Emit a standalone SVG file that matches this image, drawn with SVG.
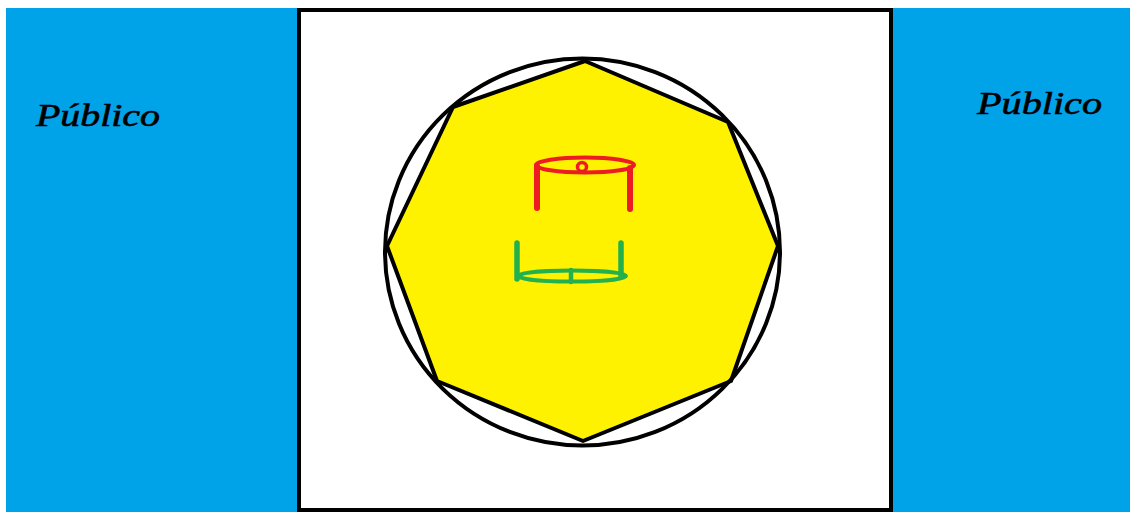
<svg xmlns="http://www.w3.org/2000/svg" width="1132" height="512" viewBox="0 0 1132 512">
<style>
.pub{fill:#00A2E8}
.lbl{font-family:"Liberation Serif",serif;font-style:italic;font-size:31px;fill:#000;stroke:#000;stroke-width:0.6}
.blk{fill:none;stroke:#000;stroke-width:4}
.red{fill:none;stroke:#ED1C24;stroke-linecap:round}
.grn{fill:none;stroke:#22B14C;stroke-linecap:round}
</style>
<rect width="1132" height="512" fill="#fff"/>
<g id="publico-left">
<rect class="pub" x="6" y="8" width="292" height="504"/>
<text class="lbl" x="36" y="126" textLength="124" lengthAdjust="spacingAndGlyphs">Público</text>
</g>
<g id="publico-right">
<rect class="pub" x="892" y="8" width="238" height="504"/>
<text class="lbl" x="977" y="114" textLength="125" lengthAdjust="spacingAndGlyphs">Público</text>
</g>
<g id="stage">
<rect x="299" y="10" width="592" height="500" fill="#fff" stroke="#000" stroke-width="4"/>
</g>
<g id="octagon">
<polygon points="585,61 728,122 778,246 731,381 583,441 437,381 387,246 453,107" fill="#FFF200" stroke="#000" stroke-width="4" stroke-linejoin="round"/>
</g>
<g id="circle">
<ellipse class="blk" cx="582.5" cy="252" rx="197.5" ry="193.5"/>
</g>
<g id="red-table">
<ellipse class="red" cx="585" cy="165" rx="49" ry="7.5" stroke-width="4"/>
<circle class="red" cx="582" cy="167" r="4.5" stroke-width="3.5"/>
<line class="red" x1="537" y1="166" x2="537" y2="208" stroke-width="6"/>
<line class="red" x1="630" y1="168" x2="630" y2="209" stroke-width="6"/>
</g>
<g id="green-table">
<ellipse class="grn" cx="572" cy="276" rx="54" ry="5.5" stroke-width="4"/>
<line class="grn" x1="571" y1="270" x2="571" y2="282" stroke-width="4.5"/>
<line class="grn" x1="517" y1="243" x2="517" y2="279" stroke-width="5.5"/>
<line class="grn" x1="621" y1="243" x2="621" y2="277" stroke-width="5.5"/>
</g>
<g id="connectors"/>
</svg>
